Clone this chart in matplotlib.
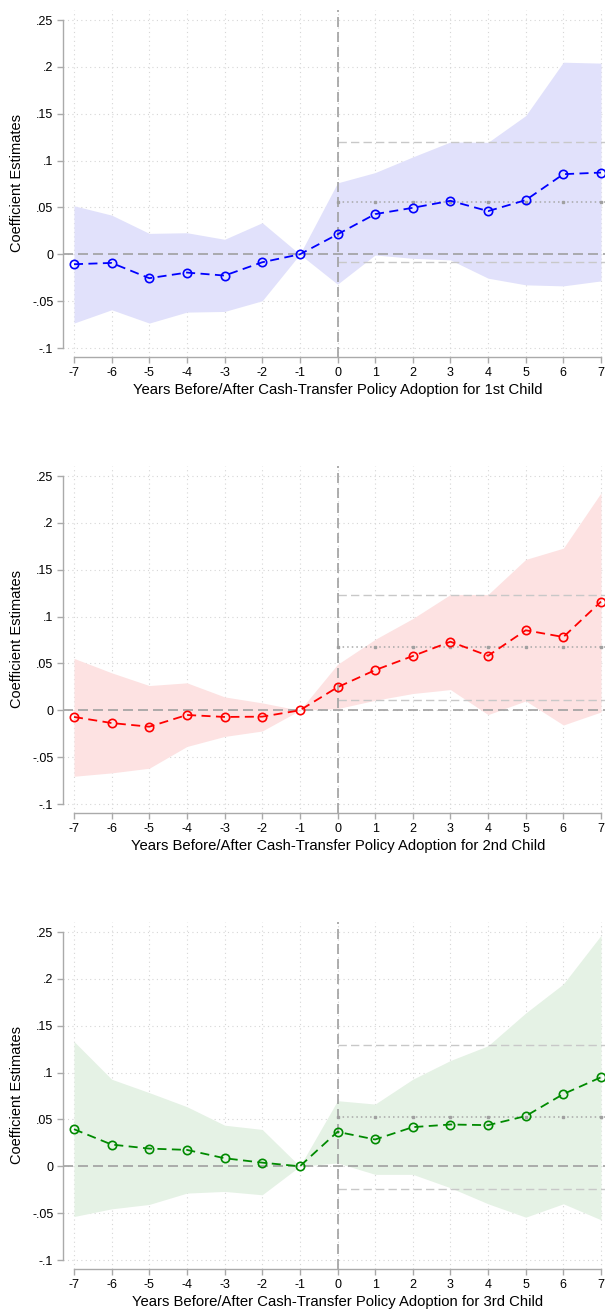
import numpy as np
import matplotlib
matplotlib.use("Agg")
import matplotlib.pyplot as plt

plt.rcParams['font.family'] = ['Liberation Sans', 'DejaVu Sans']

years = np.arange(-7, 8)

# 1st child
coef1 = [-0.0106, -0.0092, -0.0255, -0.0195, -0.0227, -0.0085, 0.0, 0.0213,
         0.0429, 0.0496, 0.0571, 0.0461, 0.0578, 0.0855, 0.0872]
hi1 = [0.0518, 0.0418, 0.0223, 0.0230, 0.0160, 0.0337, 0.0, 0.0762,
       0.0872, 0.1039, 0.1199, 0.1195, 0.1480, 0.2050, 0.2040]
lo1 = [-0.0734, -0.0592, -0.0734, -0.0617, -0.0610, -0.0496, 0.0, -0.0319,
       -0.0007, -0.0043, -0.0060, -0.0255, -0.0326, -0.0337, -0.0284]
avg1 = [0.0557, 0.1200, -0.0085]  # mean post effect, upper, lower

# 2nd child
coef2 = [-0.0071, -0.0136, -0.0175, -0.0050, -0.0071, -0.0068, 0.0, 0.0246,
         0.0429, 0.0579, 0.0732, 0.0582, 0.0854, 0.0782, 0.1160]
hi2 = [0.0554, 0.0400, 0.0264, 0.0293, 0.0143, 0.0079, 0.0, 0.0490,
       0.0757, 0.0979, 0.1236, 0.1236, 0.1610, 0.1730, 0.2320]
lo2 = [-0.0704, -0.0668, -0.0618, -0.0386, -0.0279, -0.0221, 0.0, 0.0018,
       0.0107, 0.0179, 0.0221, -0.0046, 0.0100, -0.0157, -0.0018]
avg2 = [0.0671, 0.1229, 0.0114]

# 3rd child
coef3 = [0.0396, 0.0232, 0.0189, 0.0175, 0.0086, 0.0039, 0.0, 0.0368,
         0.0286, 0.0418, 0.0446, 0.0439, 0.0536, 0.0771, 0.0950]
hi3 = [0.1332, 0.0929, 0.0786, 0.0636, 0.0439, 0.0393, 0.0, 0.0700,
       0.0664, 0.0929, 0.1129, 0.1286, 0.1636, 0.1946, 0.2464]
lo3 = [-0.0536, -0.0454, -0.0407, -0.0286, -0.0268, -0.0304, 0.0, 0.0036,
       -0.0086, -0.0086, -0.0229, -0.0400, -0.0543, -0.0400, -0.0571]
avg3 = [0.0529, 0.1296, -0.0239]

yticks = [-0.1, -0.05, 0, 0.05, 0.1, 0.15, 0.2, 0.25]
ytick_labels = ['-.1', '-.05', '0', '.05', '.1', '.15', '.2', '.25']

panels = [
    (coef1, hi1, lo1, avg1, '#0000ff', '#e1e1fb', '1st', 10),
    (coef2, hi2, lo2, avg2, '#ff0000', '#fde2e2', '2nd', 466),
    (coef3, hi3, lo3, avg3, '#008a00', '#e5f2e5', '3rd', 922),
]

W, H = 605, 1312
fig = plt.figure(figsize=(W / 100, H / 100), dpi=100)

for coef, hi, lo, avg, col, fill, nth, top in panels:
    bottom = top + 347
    ax = fig.add_axes([63 / W, 1 - bottom / H, (W - 63) / W, 347 / H])
    ax.set_xlim(-7.292, 7.106)
    ax.set_ylim(-0.1096, 0.2607)

    # grid
    for t in yticks:
        ax.axhline(t, color='#d6d6d6', lw=0.8, ls=(0, (1, 3)), zorder=0)
    for t in years:
        ax.axvline(t, color='#d6d6d6', lw=0.8, ls=(0, (1, 3)), zorder=0)

    ax.fill_between(years, lo, hi, color=fill, lw=0, zorder=1)

    # average post-period effect and its band
    post = years[years >= 0]
    ax.plot([0, 7.2], [avg[1]] * 2, color='#c8c8c8', lw=1.0, ls=(0, (6, 3)), zorder=2)
    ax.plot([0, 7.2], [avg[2]] * 2, color='#c8c8c8', lw=1.0, ls=(0, (6, 3)), zorder=2)
    ax.plot([0, 7.2], [avg[0]] * 2, color='#a8a8a8', lw=1.1, ls=(0, (1, 2)), zorder=2)
    ax.plot(post, [avg[0]] * len(post), ls='none', marker='s', ms=1.8,
            color='#a0a0a0', zorder=2)

    ax.axhline(0, color='#a0a0a0', lw=1.2, ls=(0, (6, 3)), zorder=2)
    ax.axvline(0, color='#a0a0a0', lw=1.2, ls=(0, (6, 3)), zorder=2)

    ax.plot(years, coef, color=col, lw=1.3, ls=(0, (5, 3)), marker='o', ms=6,
            mfc='none', mec=col, mew=1.2, zorder=3)

    for s in ['top', 'right']:
        ax.spines[s].set_visible(False)
    ax.spines['left'].set_bounds(-0.1, 0.25)
    ax.spines['bottom'].set_bounds(-7, 7)
    for s in ['left', 'bottom']:
        ax.spines[s].set_color('#aaaaaa')
        ax.spines[s].set_linewidth(1.0)

    ax.set_yticks(yticks)
    ax.set_yticklabels(ytick_labels)
    ax.set_xticks(years)
    ax.set_xticklabels([str(v) for v in years])
    ax.tick_params(axis='both', colors='#aaaaaa', labelcolor='black',
                   labelsize=9, length=4, width=1.0, pad=3)

    ax.set_ylabel('Coefficient Estimates', fontsize=10.5, labelpad=6)
    ax.set_xlabel(f'Years Before/After Cash-Transfer Policy Adoption for {nth} Child',
                  fontsize=10.7, labelpad=3)
    ax.xaxis.label.set_x(0.507)

fig.savefig('out.png', dpi=100)
